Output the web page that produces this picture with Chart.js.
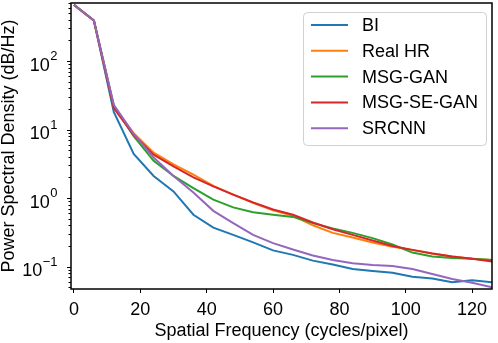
<!DOCTYPE html>
<html>
<head>
<meta charset="utf-8">
<script src="https://cdn.jsdelivr.net/npm/chart.js@4/dist/chart.umd.min.js"></script>
<style>
  html, body { margin: 0; padding: 0; background: #fff; }
  #wrap { width: 498px; height: 343px; position: relative; }
</style>
</head>
<body>
<div id="wrap"><canvas id="chart_psd"></canvas></div>
<script>
// data
var freq = [0, 6, 12, 18, 24, 30, 36, 42, 48, 54, 60, 66, 72, 78, 84, 90, 96, 102, 108, 114, 120, 126];

var bi       = [658, 390, 18,   4.4, 2.1, 1.25, 0.57, 0.37, 0.29, 0.225, 0.172, 0.148, 0.122, 0.107, 0.092, 0.086, 0.081, 0.071, 0.067, 0.059, 0.063, 0.059];
var realHR   = [658, 390, 22,   8.8, 4.6, 3.1,  2.2,  1.5,  1.12, 0.85,  0.66,  0.55,  0.40,  0.31,  0.265, 0.225, 0.195, 0.175, 0.155, 0.14,  0.13,  0.125];
var msgGan   = [665, 390, 22,   8.0, 3.5, 2.1,  1.4,  0.95, 0.73, 0.62,  0.57,  0.53,  0.43,  0.36,  0.31,  0.26,  0.21,  0.16,  0.14,  0.133, 0.13,  0.125];
var msgSeGan = [658, 390, 20.5, 8.3, 4.3, 2.9,  2.0,  1.48, 1.12, 0.86,  0.68,  0.57,  0.44,  0.35,  0.29,  0.24,  0.20,  0.175, 0.155, 0.14,  0.13,  0.118];
var srcnn    = [658, 390, 23,   8.6, 3.9, 2.1,  1.2,  0.65, 0.43, 0.29,  0.22,  0.177, 0.145, 0.125, 0.112, 0.105, 0.102, 0.092, 0.078, 0.066, 0.058, 0.050];

var seriesNames = ["BI", "Real HR", "MSG-GAN", "MSG-SE-GAN", "SRCNN"];
var seriesColors = ["#1f77b4", "#ff7f0e", "#2ca02c", "#d62728", "#9467bd"];

var xTicks = [0, 20, 40, 60, 80, 100, 120];
var yPowers = [-1, 0, 1, 2];
var yMinorTicks = [0.05, 0.06, 0.07, 0.08, 0.09, 0.2, 0.3, 0.4, 0.5, 0.6, 0.7, 0.8, 0.9,
                   2, 3, 4, 5, 6, 7, 8, 9, 20, 30, 40, 50, 60, 70, 80, 90, 200, 300, 400, 500, 600, 700];

var FONT = "'Liberation Sans', Arial, sans-serif";
Chart.defaults.color = "#000";
Chart.defaults.font.family = FONT;

function toPoints(vals) {
    var pts = [];
    freq.forEach(function (f, i) { pts.push({ x: f, y: vals[i] }); });
    return pts;
}

var allSeries = [bi, realHR, msgGan, msgSeGan, srcnn];
var datasets = allSeries.map(function (s, i) {
    return {
        label: seriesNames[i],
        data: toPoints(s),
        borderColor: seriesColors[i],
        backgroundColor: seriesColors[i],
        borderWidth: 2,
        pointRadius: 0,
        tension: 0,
        order: allSeries.length - i   // later series drawn on top
    };
});

// frame, y ticks with superscript labels, legend box
var decorPlugin = {
    id: "decor",
    afterDraw: function (chart) {
        var ctx = chart.ctx;
        var a = chart.chartArea;
        var ys = chart.scales.y;
        ctx.save();

        // spines
        ctx.strokeStyle = "#000";
        ctx.lineWidth = 1.5;
        ctx.strokeRect(a.left, a.top, a.right - a.left, a.bottom - a.top);

        // y ticks
        ctx.lineWidth = 1;
        yPowers.forEach(function (p) {
            var y = Math.round(ys.getPixelForValue(Math.pow(10, p))) + 0.5;
            ctx.beginPath(); ctx.moveTo(a.left - 4, y); ctx.lineTo(a.left, y); ctx.stroke();
        });
        yMinorTicks.forEach(function (v) {
            var y = Math.round(ys.getPixelForValue(v)) + 0.5;
            ctx.beginPath(); ctx.moveTo(a.left - 2.5, y); ctx.lineTo(a.left, y); ctx.stroke();
        });

        // y labels 10^p
        ctx.fillStyle = "#000";
        ctx.textBaseline = "alphabetic";
        ctx.textAlign = "right";
        yPowers.forEach(function (p) {
            var y = ys.getPixelForValue(Math.pow(10, p));
            var exp = p < 0 ? "\u2212" + (-p) : String(p);
            var right = a.left - 13.5;
            ctx.font = "13px " + FONT;
            ctx.fillText(exp, right, y - 1);
            var w = ctx.measureText(exp).width;
            ctx.font = "18px " + FONT;
            ctx.fillText("10", right - w - 0.5, y + 9.5);
        });

        // legend
        var lx = 303, ly = 12, lw = 183, lh = 133;
        ctx.beginPath();
        ctx.roundRect(lx + 0.5, ly + 0.5, lw, lh, 4);
        ctx.fillStyle = "rgba(255,255,255,0.8)";
        ctx.fill();
        ctx.strokeStyle = "#d0d0d0";
        ctx.lineWidth = 1;
        ctx.stroke();

        ctx.textAlign = "left";
        ctx.textBaseline = "middle";
        ctx.font = "18px " + FONT;
        seriesNames.forEach(function (name, i) {
            var y = ly + 13 + i * 25.8;
            ctx.strokeStyle = seriesColors[i];
            ctx.lineWidth = 2;
            ctx.beginPath(); ctx.moveTo(311, y); ctx.lineTo(348, y); ctx.stroke();
            ctx.fillStyle = "#000";
            ctx.fillText(name, 362, y + 1);
        });
        ctx.restore();
    }
};

var ctxPSD = document.getElementById("chart_psd").getContext("2d");
var chartPSD = new Chart(ctxPSD, {
    type: "line",
    data: { datasets: datasets },
    options: {
        responsive: true,
        maintainAspectRatio: false,
        animation: false,
        layout: { padding: { top: 3, right: 6, left: 0, bottom: 0 } },
        plugins: {
            legend: { display: false },
            tooltip: { enabled: false }
        },
        scales: {
            x: {
                type: "linear",
                min: -0.9,
                max: 126,
                afterBuildTicks: function (scale) {
                    scale.ticks = xTicks.map(function (v) { return { value: v }; });
                },
                afterFit: function (scale) { scale.height = 54; },
                grid: {
                    drawOnChartArea: false,
                    drawTicks: true,
                    tickLength: 4,
                    tickColor: "#000",
                    tickWidth: 1
                },
                border: { display: false },
                ticks: {
                    padding: 6,
                    maxRotation: 0,
                    font: { size: 18 },
                    callback: function (v) { return String(v); }
                },
                title: {
                    display: true,
                    text: "Spatial Frequency (cycles/pixel)",
                    font: { size: 18 },
                    padding: { top: 0, bottom: 1 }
                }
            },
            y: {
                type: "logarithmic",
                min: 0.047,
                max: 703,
                afterFit: function (scale) { scale.width = 71; },
                grid: { display: false },
                border: { display: false },
                ticks: { display: false },
                title: {
                    display: true,
                    text: "Power Spectral Density (dB/Hz)",
                    font: { size: 18, lineHeight: 1.0 },
                    padding: 0
                }
            }
        }
    },
    plugins: [decorPlugin]
});
</script>
</body>
</html>
